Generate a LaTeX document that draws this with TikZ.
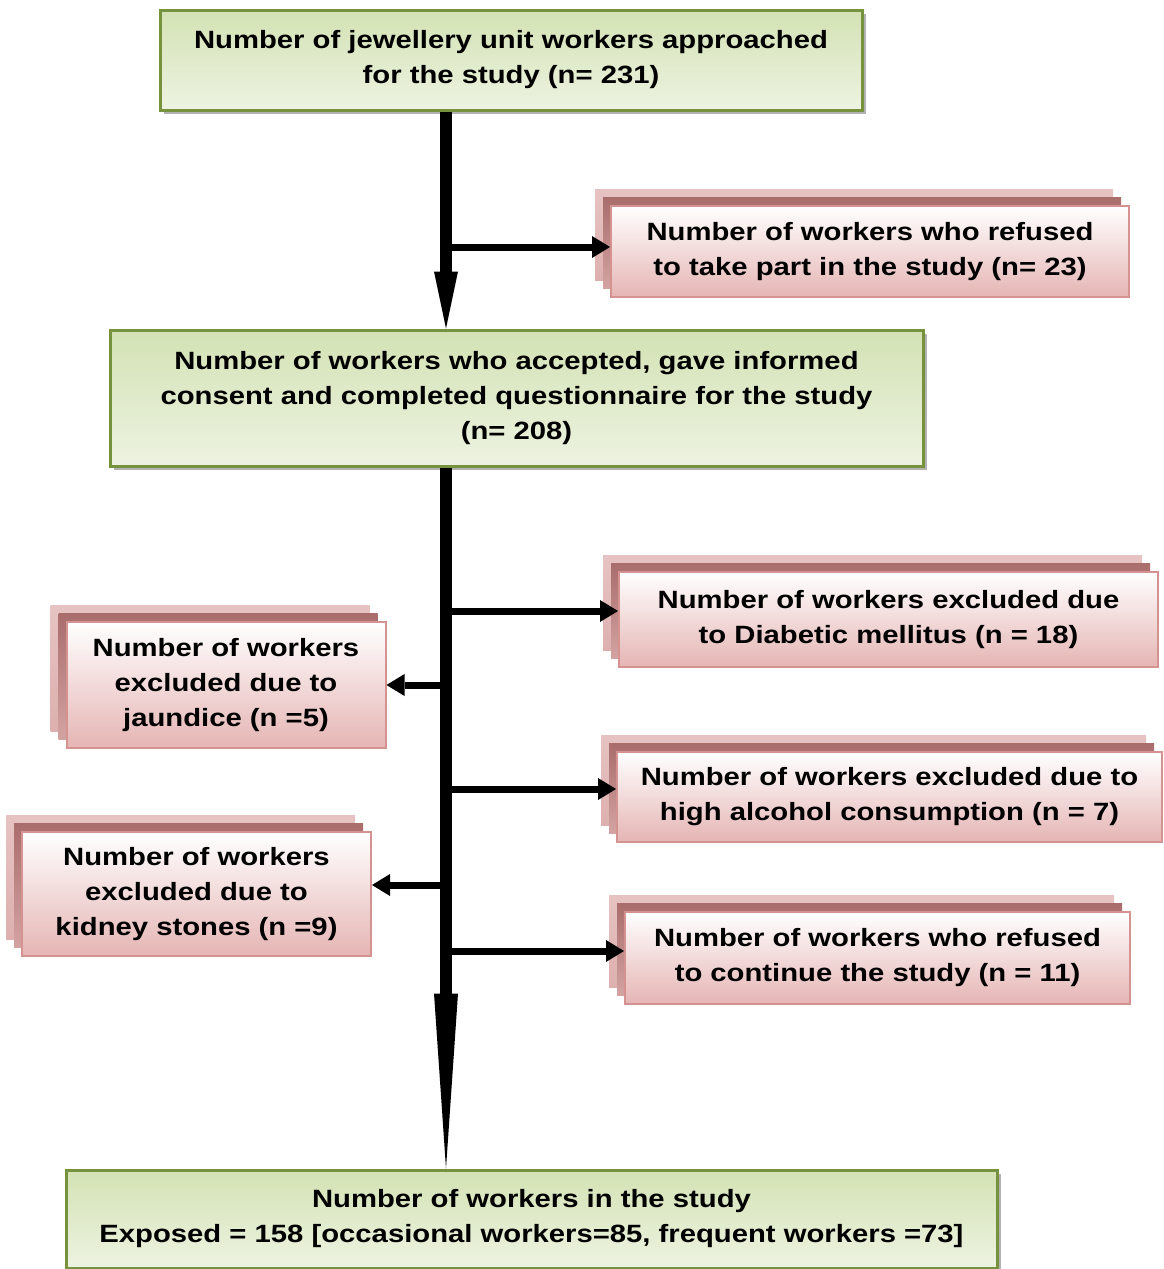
\documentclass[tikz,border=0pt]{standalone}
\usepackage{fontspec}
\newfontfamily\boxfont{Liberation Sans}[FakeStretch=1.17]
\usetikzlibrary{arrows.meta,shadows}
\definecolor{gborder}{HTML}{76923C}
\definecolor{gtop}{HTML}{D3E2B4}
\definecolor{gbot}{HTML}{EDF3E1}
\definecolor{pborder}{HTML}{D49391}
\definecolor{pbot}{HTML}{E5B5B4}
\definecolor{pmidtop}{HTML}{A96D6C}
\definecolor{pmidbot}{HTML}{D3A3A2}
\definecolor{pouttop}{HTML}{E6C3C2}
\definecolor{poutbot}{HTML}{DDB0AF}
\tikzset{
  txt/.style={align=center,inner sep=0pt,font=\boxfont\bfseries\fontsize{25}{35}\selectfont},
  greenbox/.style={txt,draw=gborder,line width=3pt,top color=gtop,bottom color=gbot,
    general shadow={shadow xshift=3.5pt,shadow yshift=-3.5pt,fill=black!30}},
  pinkbox/.style={txt,draw=pborder,line width=2pt,top color=white,bottom color=pbot,
    general shadow={shadow xshift=-16pt,shadow yshift=17pt,top color=pouttop,bottom color=poutbot,draw=none},
    general shadow={shadow xshift=-8pt,shadow yshift=8.5pt,top color=pmidtop,bottom color=pmidbot,draw=none}},
  trunk/.style={line width=12pt},
  branch/.style={line width=7pt,-{Triangle[length=18pt,width=22pt,line width=0pt]}},
}
\begin{document}
\begin{tikzpicture}[x=1pt,y=-1pt]
\useasboundingbox (0,0) rectangle (1163,1269);
\node[greenbox,minimum width=702pt,minimum height=100pt] (g1) at (511,60)
  {Number of jewellery unit workers approached\\for the study (n= 231)};
\node[pinkbox,minimum width=518pt,minimum height=91pt] (p1) at (870,251.5)
  {Number of workers who refused\\to take part in the study (n= 23)};
\node[greenbox,minimum width=813pt,minimum height=136pt] (g2) at (516.5,398)
  {Number of workers who accepted, gave informed\\consent and completed questionnaire for the study\\(n= 208)};
\node[pinkbox,minimum width=539pt,minimum height=95pt] (p2) at (888.5,619.5)
  {Number of workers excluded due\\to Diabetic mellitus (n = 18)};
\node[pinkbox,minimum width=319pt,minimum height=126pt] (p3) at (226,685)
  {Number of workers\\excluded due to\\jaundice (n =5)};
\node[pinkbox,minimum width=545pt,minimum height=90pt] (p4) at (889.5,797)
  {Number of workers excluded due to\\high alcohol consumption (n = 7)};
\node[pinkbox,minimum width=349pt,minimum height=124pt] (p5) at (196.5,894)
  {Number of workers\\excluded due to\\kidney stones (n =9)};
\node[pinkbox,minimum width=505pt,minimum height=92pt] (p6) at (877.5,958)
  {Number of workers who refused\\to continue the study (n = 11)};
\node[greenbox,minimum width=931pt,minimum height=98pt] (g3) at (531.5,1219)
  {Number of workers in the study\\Exposed = 158 [occasional workers=85, frequent workers =73]};
% trunks
\coordinate (tx) at (446,0);
\draw[trunk,-{Triangle[length=57pt,width=24pt,line width=0pt]}] (g1.south -| tx) -- (g2.north -| tx);
\draw[trunk,-{Triangle[length=175pt,width=24pt,line width=0pt]}] (g2.south -| tx) -- (g3.north -| tx);
% branches
\coordinate (b1) at (446,247);
\coordinate (b2) at (446,611);
\coordinate (b3) at (446,685);
\coordinate (b4) at (446,789);
\coordinate (b5) at (446,885);
\coordinate (b6) at (446,951);
\draw[branch] (b1) -- (b1 -| p1.west);
\draw[branch] (b2) -- (b2 -| p2.west);
\draw[branch] (b3) -- (b3 -| p3.east);
\draw[branch] (b4) -- (b4 -| p4.west);
\draw[branch] (b5) -- (b5 -| p5.east);
\draw[branch] (b6) -- (b6 -| p6.west);
\end{tikzpicture}
\end{document}
